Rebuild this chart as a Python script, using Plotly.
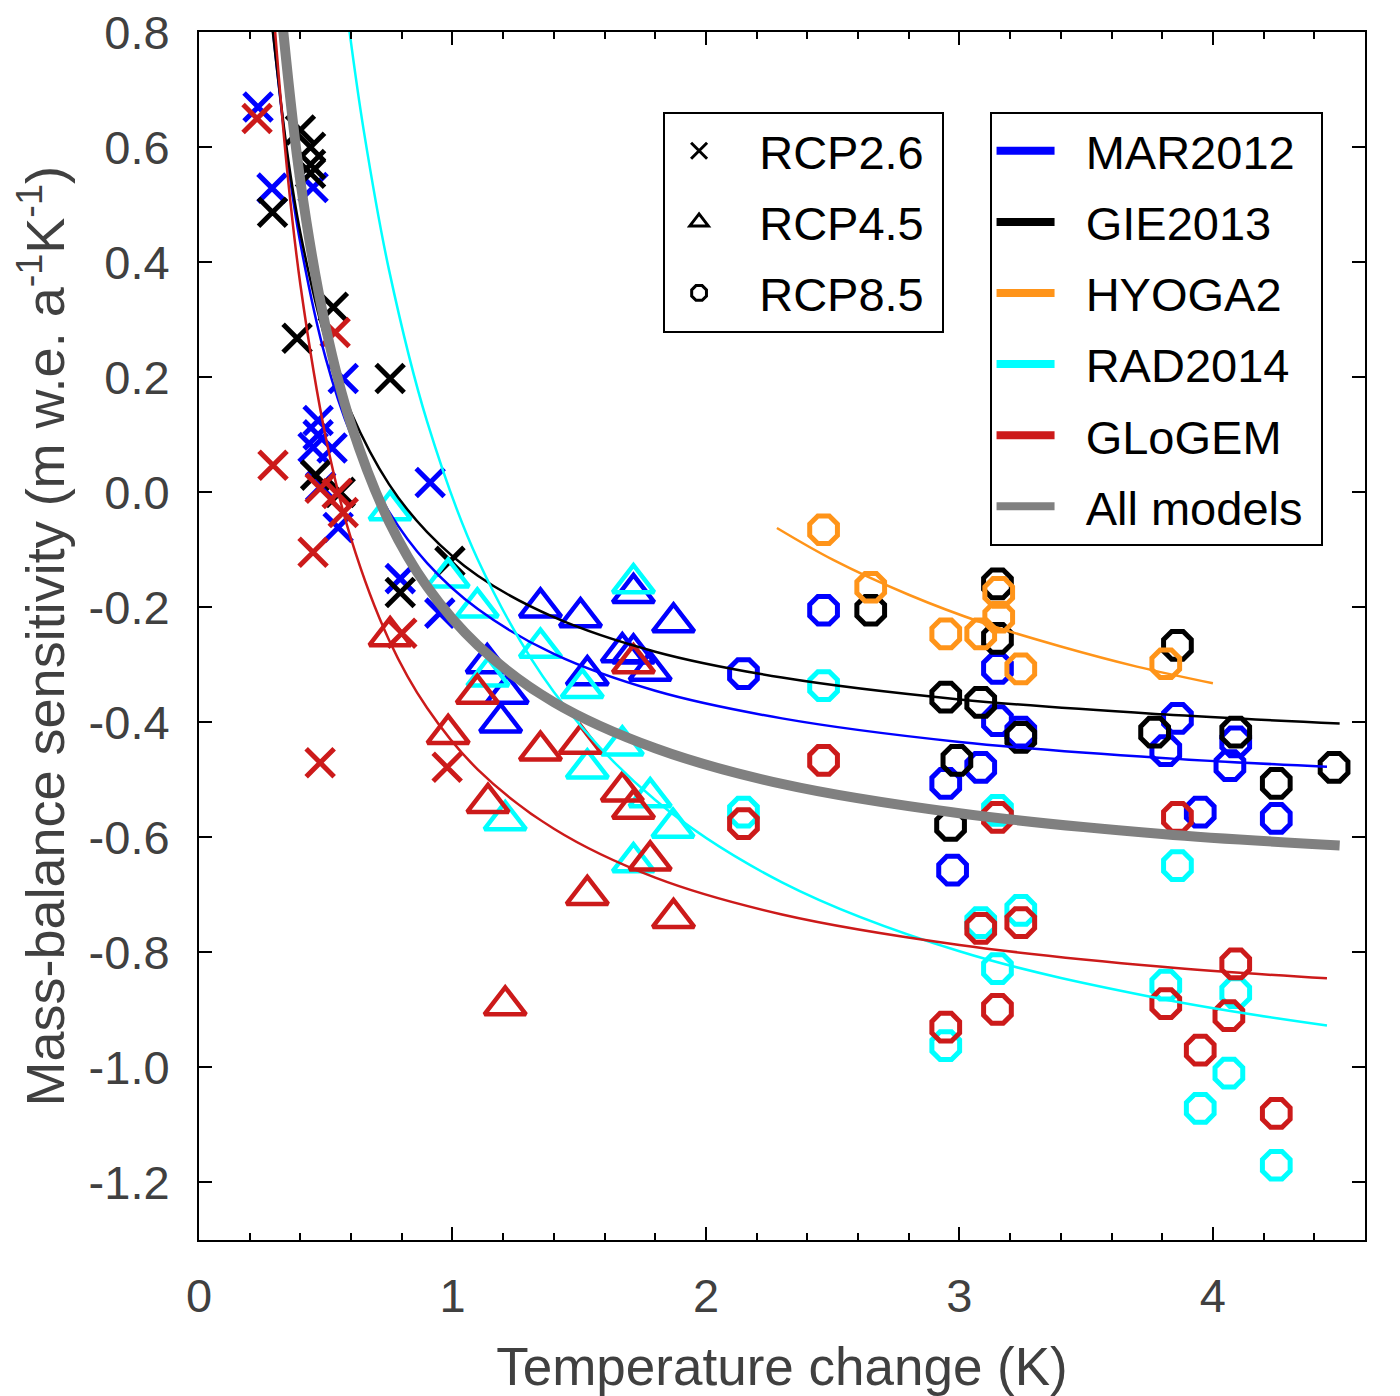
import plotly.graph_objects as go

# ---- data ----
# RCP2.6 (crosses)
mar_26_x = [0.233, 0.288, 0.45, 0.569, 0.47, 0.45, 0.525, 0.47, 0.549, 0.912, 0.794, 0.95, 0.48]
mar_26_y = [0.670, 0.529, 0.530, 0.198, 0.125, 0.078, 0.077, 0.10, -0.061, 0.017, -0.15, -0.21, 0.01]
gie_26_x = [0.40, 0.44, 0.44, 0.44, 0.29, 0.53, 0.387, 0.754, 0.46, 0.557, 0.99, 0.794]
gie_26_y = [0.63, 0.60, 0.57, 0.555, 0.487, 0.322, 0.268, 0.198, 0.03, 0.0, -0.12, -0.174]
glo_26_x = [0.229, 0.537, 0.292, 0.478, 0.545, 0.569, 0.45, 0.478, 0.979, 0.80]
glo_26_y = [0.65, 0.278, 0.047, 0.007, -0.002, -0.035, -0.104, -0.47, -0.478, -0.245]

# RCP4.5 (triangles)
mar_45_x = [1.714, 1.347, 1.505, 1.872, 1.67, 1.714, 1.78, 1.532, 1.137, 1.216, 1.19]
mar_45_y = [-0.175, -0.20, -0.217, -0.226, -0.278, -0.28, -0.31, -0.318, -0.297, -0.35, -0.40]
rad_45_x = [0.754, 0.983, 1.098, 1.347, 1.714, 1.14, 1.512, 1.67, 1.532, 1.78, 1.87, 1.714, 1.208]
rad_45_y = [-0.031, -0.148, -0.20, -0.27, -0.158, -0.32, -0.34, -0.44, -0.48, -0.53, -0.583, -0.643, -0.57]
glo_45_x = [0.754, 1.098, 0.983, 1.347, 1.505, 1.714, 1.67, 1.714, 1.14, 1.78, 1.532, 1.872, 1.208]
glo_45_y = [-0.25, -0.35, -0.42, -0.449, -0.437, -0.297, -0.52, -0.55, -0.54, -0.64, -0.70, -0.74, -0.892]

# RCP8.5 (octagons)
mar_85_x = [2.464, 2.148, 3.15, 3.15, 3.242, 3.084, 2.946, 3.86, 3.814, 4.09, 4.067, 3.95, 4.25, 2.973]
mar_85_y = [-0.205, -0.315, -0.306, -0.397, -0.417, -0.478, -0.506, -0.393, -0.449, -0.434, -0.475, -0.556, -0.567, -0.657]
gie_85_x = [2.65, 3.15, 3.15, 2.946, 3.084, 3.242, 2.99, 2.965, 3.86, 3.77, 4.09, 4.25, 4.478]
gie_85_y = [-0.205, -0.159, -0.254, -0.356, -0.365, -0.426, -0.466, -0.579, -0.266, -0.417, -0.417, -0.506, -0.478]
hyo_85_x = [2.464, 2.65, 2.946, 3.084, 3.155, 3.155, 3.242, 3.814]
hyo_85_y = [-0.065, -0.165, -0.246, -0.246, -0.174, -0.217, -0.307, -0.298]
rad_85_x = [2.464, 2.148, 3.15, 3.86, 3.084, 3.242, 3.15, 3.814, 4.09, 2.946, 4.063, 3.95, 4.25]
rad_85_y = [-0.336, -0.556, -0.553, -0.649, -0.748, -0.727, -0.828, -0.857, -0.87, -0.962, -1.01, -1.071, -1.17]
glo_85_x = [2.464, 2.148, 3.15, 3.86, 3.084, 3.242, 4.09, 3.814, 3.15, 4.063, 2.946, 3.95, 4.25]
glo_85_y = [-0.466, -0.576, -0.565, -0.565, -0.758, -0.748, -0.82, -0.889, -0.899, -0.91, -0.93, -0.97, -1.08]

# fitted curves
mar_fit_x = [0.29, 0.35, 0.4, 0.5, 0.6, 0.75, 0.9, 1.1, 1.4, 1.8, 2.3, 3.0, 3.8, 4.45]
mar_fit_y = [0.81, 0.576, 0.433, 0.233, 0.10, -0.034, -0.123, -0.203, -0.281, -0.345, -0.393, -0.434, -0.462, -0.477]
gie_fit_x = [0.29, 0.35, 0.4, 0.5, 0.6, 0.75, 0.9, 1.1, 1.4, 1.8, 2.3, 3.0, 3.8, 4.5]
gie_fit_y = [0.806, 0.585, 0.451, 0.264, 0.139, 0.014, -0.069, -0.145, -0.217, -0.277, -0.322, -0.360, -0.386, -0.402]
hyo_fit_x = [2.28, 2.5, 2.8, 3.1, 3.4, 3.7, 4.0]
hyo_fit_y = [-0.062, -0.117, -0.178, -0.228, -0.268, -0.303, -0.332]
rad_fit_x = [0.59, 0.65, 0.75, 0.9, 1.1, 1.4, 1.8, 2.3, 3.0, 3.8, 4.45]
rad_fit_y = [0.814, 0.629, 0.386, 0.123, -0.117, -0.347, -0.535, -0.678, -0.798, -0.881, -0.927]
glo_fit_x = [0.3, 0.35, 0.4, 0.5, 0.6, 0.75, 0.9, 1.1, 1.4, 1.8, 2.3, 3.0, 3.8, 4.45]
glo_fit_y = [0.803, 0.550, 0.361, 0.096, -0.081, -0.257, -0.375, -0.482, -0.585, -0.670, -0.734, -0.787, -0.825, -0.845]
all_fit_x = [0.32, 0.4, 0.5, 0.6, 0.75, 0.9, 1.1, 1.4, 1.8, 2.3, 3.0, 3.8, 4.5]
all_fit_y = [0.857, 0.541, 0.287, 0.118, -0.051, -0.164, -0.266, -0.365, -0.445, -0.507, -0.558, -0.594, -0.614]

y_tick_vals = [0.8, 0.6, 0.4, 0.2, 0.0, -0.2, -0.4, -0.6, -0.8, -1.0, -1.2]
y_tick_text = ["0.8", "0.6", "0.4", "0.2", "0.0", "-0.2", "-0.4", "-0.6", "-0.8", "-1.0", "-1.2"]
x_tick_vals = [0, 1, 2, 3, 4]
x_tick_text = ["0", "1", "2", "3", "4"]

BLUE = "#0000ff"
BLACK = "#000000"
ORANGE = "#ff9419"
CYAN = "#00ffff"
RED = "#cc1a1a"
GRAY = "#808080"

SYM = {"26": "x-thin-open", "45": "triangle-up-open", "85": "octagon-open"}
SIZE = {"26": 28, "45": 36, "85": 30}
LW = {"26": 5, "45": 4.5, "85": 5}

fig = go.Figure()

points = [
    (mar_26_x, mar_26_y, BLUE, "26"),
    (gie_26_x, gie_26_y, BLACK, "26"),
    (glo_26_x, glo_26_y, RED, "26"),
    (mar_45_x, mar_45_y, BLUE, "45"),
    (rad_45_x, rad_45_y, CYAN, "45"),
    (glo_45_x, glo_45_y, RED, "45"),
    (mar_85_x, mar_85_y, BLUE, "85"),
    (gie_85_x, gie_85_y, BLACK, "85"),
    (hyo_85_x, hyo_85_y, ORANGE, "85"),
    (rad_85_x, rad_85_y, CYAN, "85"),
    (glo_85_x, glo_85_y, RED, "85"),
]
for xs, ys, col, rcp in points:
    fig.add_trace(go.Scatter(
        x=xs, y=ys, mode="markers", showlegend=False, hoverinfo="skip",
        marker=dict(symbol=SYM[rcp], size=SIZE[rcp], color=col,
                    line=dict(color=col, width=LW[rcp]))))

# fitted curves
curves = [
    (mar_fit_x, mar_fit_y, BLUE, 2.5),
    (gie_fit_x, gie_fit_y, BLACK, 2.5),
    (hyo_fit_x, hyo_fit_y, ORANGE, 2.5),
    (rad_fit_x, rad_fit_y, CYAN, 2.5),
    (glo_fit_x, glo_fit_y, RED, 2.5),
    (all_fit_x, all_fit_y, GRAY, 10),
]
for xs, ys, col, w in curves:
    fig.add_trace(go.Scatter(
        x=xs, y=ys, mode="lines", line=dict(color=col, width=w, shape="spline"),
        showlegend=False, hoverinfo="skip"))

NB = "\u00a0"

# legend entries: scenarios (symbols)
for rcp, label in [("26", "RCP2.6"), ("45", "RCP4.5"), ("85", "RCP8.5")]:
    fig.add_trace(go.Scatter(
        x=[None], y=[None], mode="markers", name=NB * 2 + label + NB, legend="legend",
        legendgroup="s" + rcp,
        marker=dict(symbol=SYM[rcp], size=16, color=BLACK, line=dict(color=BLACK, width=3))))

# legend entries: models (lines)
for name, col in [("MAR2012", BLUE), ("GIE2013", BLACK), ("HYOGA2", ORANGE),
                  ("RAD2014", CYAN), ("GLoGEM", RED), ("All models", GRAY)]:
    fig.add_trace(go.Scatter(
        x=[None], y=[None], mode="lines", name=NB * 2 + name + NB, legend="legend2",
        legendgroup="m" + name, line=dict(color=col, width=8)))

FONT = "Liberation Sans, Arial, Helvetica, sans-serif"
TXT = "#404040"

axis_common = dict(
    showline=True, linecolor=BLACK, linewidth=2, mirror="allticks",
    ticks="inside", tickcolor=BLACK, tickwidth=2, ticklen=13,
    showgrid=False, zeroline=False, automargin=False,
    tickfont=dict(family=FONT, size=47, color=TXT),
)

fig.update_layout(
    width=1400, height=1396,
    margin=dict(l=191, r=43, t=24, b=164),
    paper_bgcolor="white", plot_bgcolor="white",
    font=dict(family=FONT, color=TXT),
    xaxis=dict(
        range=[0, 4.6], tickvals=x_tick_vals, ticktext=x_tick_text,
        ticklabelstandoff=14,
        minor=dict(dtick=0.2, ticks="inside", ticklen=7, tickwidth=2, tickcolor=BLACK, showgrid=False),
        title=dict(text="Temperature change (K)", font=dict(family=FONT, size=53, color=TXT), standoff=26),
        **axis_common),
    yaxis=dict(
        range=[-1.3, 0.8005], tickvals=y_tick_vals, ticktext=y_tick_text,
        ticklabelstandoff=18, ticklabeloverflow="allow",
        **axis_common),
    legend=dict(
        x=0.398, y=0.934, xanchor="left", yanchor="top",
        bgcolor="white", bordercolor=BLACK, borderwidth=2,
        font=dict(family=FONT, size=47, color=BLACK),
        tracegroupgap=7, traceorder="grouped", itemwidth=58),
    legend2=dict(
        x=0.678, y=0.934, xanchor="left", yanchor="top",
        bgcolor="white", bordercolor=BLACK, borderwidth=2,
        font=dict(family=FONT, size=47, color=BLACK),
        tracegroupgap=7, traceorder="grouped", itemwidth=58),
)

# y-axis title placed as a rotated annotation so it can sit closer to the edge
fig.add_annotation(
    text="Mass-balance sensitivity (m w.e. a<sup>-1</sup>K<sup>-1</sup>)",
    xref="paper", yref="paper", x=-0.135, y=0.5, xanchor="center", yanchor="middle",
    textangle=-90, showarrow=False, font=dict(family=FONT, size=54, color=TXT))

fig.write_html("out.html")
